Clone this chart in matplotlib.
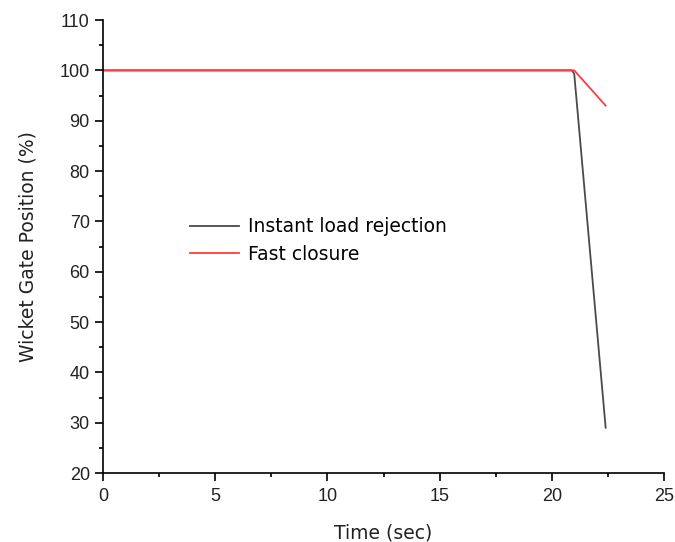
import matplotlib
matplotlib.use("Agg")
from matplotlib import pyplot as plt
from matplotlib.ticker import MultipleLocator

plt.rcParams['font.family'] = ['Liberation Sans', 'DejaVu Sans']

# Instant load rejection
t_instant = [0, 20.9, 21.0, 22.4]
pos_instant = [100, 100, 99.3, 29]

# Fast closure
t_fast = [0, 21.0, 22.4]
pos_fast = [100, 100, 93]

fig = plt.figure(figsize=(6.75, 5.42), dpi=100)
ax = fig.add_axes([0.1526, 0.1273, 0.8311, 0.8357])

ax.plot(t_instant, pos_instant, color='#4a4a4a', lw=1.3, label='Instant load rejection')
ax.plot(t_fast, pos_fast, color='#ff3b3b', lw=1.3, label='Fast closure')

ax.set_xlim(0, 25)
ax.set_ylim(20, 110)
ax.xaxis.set_major_locator(MultipleLocator(5))
ax.xaxis.set_minor_locator(MultipleLocator(2.5))
ax.yaxis.set_major_locator(MultipleLocator(10))
ax.yaxis.set_minor_locator(MultipleLocator(5))

for s in ['top', 'right']:
    ax.spines[s].set_visible(False)
for s in ['left', 'bottom']:
    ax.spines[s].set_linewidth(1.2)

ax.tick_params(which='major', direction='out', length=6, width=1.2, labelsize=13,
               labelcolor='#222222')
ax.tick_params(axis='x', which='major', pad=5)
ax.tick_params(which='minor', direction='out', length=3, width=1.2)

ax.set_xlabel('Time (sec)', fontsize=13.5, family='DejaVu Sans', color='#222222', labelpad=13)
ax.set_ylabel('Wicket Gate Position (%)', fontsize=13.5, family='DejaVu Sans', color='#222222',
              labelpad=16)

leg = ax.legend(loc='center left', bbox_to_anchor=(0.125, 0.513), frameon=False,
                prop={'family': 'DejaVu Sans', 'size': 13.5}, handlelength=2.6,
                handletextpad=0.5, labelspacing=0.45)

plt.savefig('out.png', dpi=100)
plt.close('all')
